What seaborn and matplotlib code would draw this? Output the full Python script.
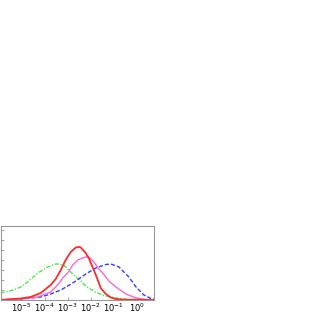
import numpy as np
import pandas as pd
import matplotlib
matplotlib.use("Agg")
import matplotlib.pyplot as plt
import seaborn as sns

# curves (log10 of x, height)
red_logx = [-5.91, -5.04, -4.61, -4.17, -3.74, -3.52, -3.30, -3.09, -2.87, -2.65, -2.52, -2.43,
            -2.22, -2.09, -2.00, -1.87, -1.78, -1.65, -1.57, -1.35, -1.13, -0.91, -0.48, 0.74]
red_y = [0, 1.5, 3, 7, 15, 21, 30, 40, 48, 52.5, 53, 52.5,
         47, 42, 37, 30, 25, 17, 12, 6, 2.5, 1, 0.2, 0]

pink_logx = [-5.91, -5.04, -4.30, -3.74, -3.52, -3.30, -3.22, -3.00, -2.78, -2.57, -2.35,
             -2.22, -2.09, -1.87, -1.65, -1.48, -1.35, -1.22, -0.91, -0.48, -0.04, 0.39, 0.74]
pink_y = [0, 1, 3, 8, 13, 19, 22, 27, 35, 40, 42,
          43, 43, 38, 31, 27, 23, 19, 13, 6, 2, 0.5, 0]

blue_logx = [-5.91, -5.04, -4.61, -4.17, -3.74, -3.30, -3.00, -2.65, -2.22, -1.78, -1.35,
             -1.13, -0.78, -0.35, -0.04, 0.30, 0.61, 0.74]
blue_y = [0.3, 1, 2, 3, 6, 10, 14, 19, 26, 32, 35.5,
          36, 33, 23, 13, 5, 1.5, 1]

green_logx = [-5.91, -5.35, -5.04, -4.74, -4.30, -3.87, -3.52, -3.43, -3.17, -3.09, -2.87,
              -2.65, -2.43, -2.22, -1.78, -1.35, -0.91, -0.48, 0.17, 0.74]
green_y = [7, 10, 13, 18, 27, 33, 36, 36, 35, 33, 28,
           23, 19, 14, 7.5, 4, 2, 1, 0.3, 0]

fig = plt.figure(figsize=(3.27, 3.27), dpi=100)
ax = fig.add_axes([0.5 / 327, 27 / 327, 153.5 / 327, 74 / 327])

sns.lineplot(x=10 ** np.array(green_logx), y=green_y, ax=ax, color="#44ee44",
             lw=1.0, linestyle=(0, (3, 1.2, 1, 1.2)))
sns.lineplot(x=10 ** np.array(blue_logx), y=blue_y, ax=ax, color="#3a3aff",
             lw=1.0, linestyle=(0, (3, 1.5)))
sns.lineplot(x=10 ** np.array(pink_logx), y=pink_y, ax=ax, color="#ff66cc", lw=1.0)
sns.lineplot(x=10 ** np.array(red_logx), y=red_y, ax=ax, color="#ff2a2a", lw=1.3)

ax.set_xscale("log")
ax.set_xlim(10 ** -5.913, 10 ** 0.739)
ax.set_ylim(0, 74)
ax.set_xticks([1e-5, 1e-4, 1e-3, 1e-2, 1e-1, 1e0])
ax.set_xticklabels([r"$10^{-5}$", r"$10^{-4}$", r"$10^{-3}$", r"$10^{-2}$",
                    r"$10^{-1}$", r"$10^{0}$"])
ax.minorticks_off()
ax.tick_params(axis="x", direction="in", length=2, labelsize=6, pad=1.5, color="#aaaaaa")
ax.tick_params(axis="y", direction="in", length=2, labelleft=False, color="#aaaaaa")
ax.set_yticks([0, 10, 20, 30, 40, 50, 60, 70])
for s in ax.spines.values():
    s.set_color("#999999")
    s.set_linewidth(0.8)

fig.savefig("out.png", dpi=100)
